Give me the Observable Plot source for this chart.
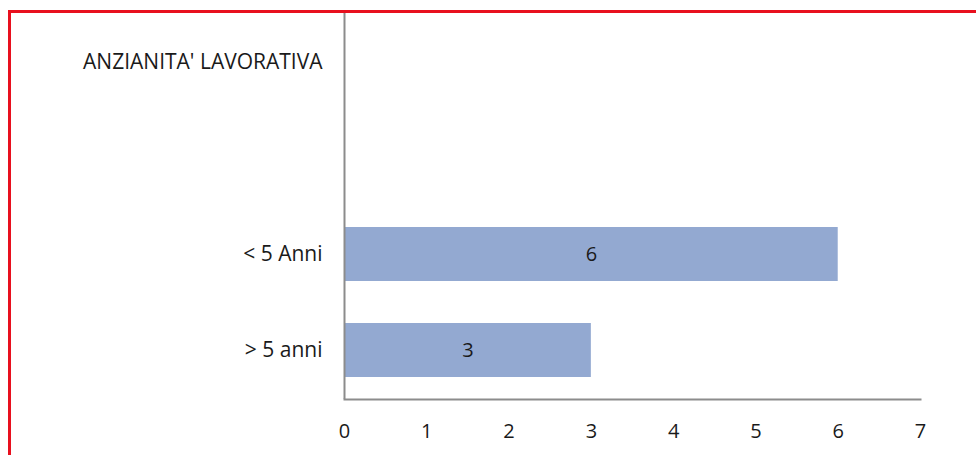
<!DOCTYPE html>
<html>
<head>
<meta charset="utf-8">
<script src="https://cdn.jsdelivr.net/npm/d3@7"></script>
<script src="https://cdn.jsdelivr.net/npm/@observablehq/plot@0.6"></script>
<style>
  html, body { margin: 0; padding: 0; background: #fff; }
  #wrap { position: relative; width: 976px; height: 455px; overflow: hidden; }
  #border { position: absolute; left: 8px; top: 10px; right: -10px; bottom: -10px;
            border-top: 3px solid #e8101e; border-left: 3px solid #e8101e; pointer-events: none; }
  svg { display: block; }
</style>
</head>
<body>
<div id="wrap"><div id="border"></div></div>
<script>
const title = "ANZIANITA' LAVORATIVA";
const categories = [title, " ", "< 5 Anni", "> 5 anni"];
const barCategories = ["< 5 Anni", "> 5 anni"];
const values = [6, 3];
const xTicks = [0, 1, 2, 3, 4, 5, 6, 7];

const data = barCategories.map((c, i) => ({category: c, value: values[i]}));

const chart = Plot.plot({
  width: 976,
  height: 455,
  marginLeft: 344,
  marginRight: 56,
  marginTop: 12,
  marginBottom: 56,
  style: {fontFamily: "Open Sans, Liberation Sans, sans-serif", fontSize: "20px", color: "#1a1a1a", background: "transparent"},
  x: {domain: [0, 7], ticks: xTicks, label: null},
  y: {domain: categories, paddingInner: 0.44, paddingOuter: 0.22, label: null},
  marks: [
    Plot.barX(data, {y: "category", x: "value", fill: "#93a9d1"}),
    Plot.text(data, {y: "category", x: d => d.value / 2, text: d => String(d.value), fill: "#1a1a1a", fontSize: 20, fontWeight: 500}),
    Plot.axisX({ticks: xTicks, tickFormat: d3.format("d"), tickSize: 0, tickPadding: 24, fontSize: 20, fill: "#1a1a1a", label: null}),
    Plot.axisY({tickSize: 0, tickPadding: 22, fontSize: 21, fill: "#1a1a1a", label: null, style: {letterSpacing: "1px"}}),
    Plot.ruleX([0], {stroke: "#8c8c8c", strokeWidth: 2}),
    Plot.frame({anchor: "bottom", stroke: "#8c8c8c", strokeWidth: 2})
  ]
});
document.getElementById("wrap").prepend(chart);
</script>
</body>
</html>
